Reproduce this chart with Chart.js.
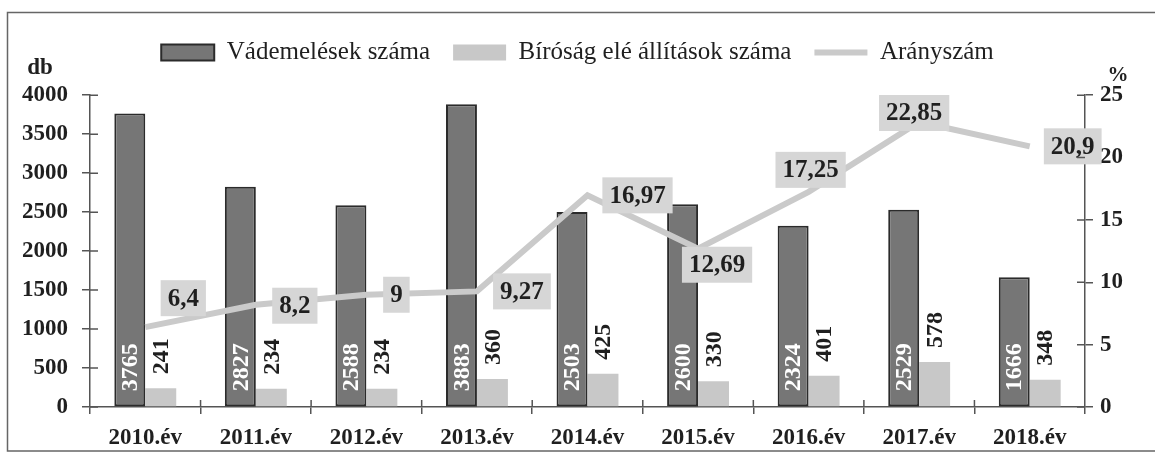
<!DOCTYPE html>
<html>
<head>
<meta charset="utf-8">
<script src="https://cdn.jsdelivr.net/npm/chart.js@4.4.1/dist/chart.umd.min.js"></script>
<style>
  html, body { margin: 0; padding: 0; background: #fff; }
  #wrap { width: 1155px; height: 456px; position: relative; }
</style>
</head>
<body>
<div id="wrap"><canvas id="chart"></canvas></div>
<script>
// data
const years = ['2010.év','2011.év','2012.év','2013.év','2014.év','2015.év','2016.év','2017.év','2018.év']
const indictments = [3765, 2827, 2588, 3883, 2503, 2600, 2324, 2529, 1666]
const trials = [241, 234, 234, 360, 425, 330, 401, 578, 348]
const ratio = [6.4, 8.2, 9, 9.27, 16.97, 12.69, 17.25, 22.85, 20.9]
const dbTicks = [0, 500, 1000, 1500, 2000, 2500, 3000, 3500, 4000]
const pctTicks = [0, 5, 10, 15, 20, 25]

// where each ratio label box sits relative to its point (px)
const ratioLabelShift = [[38,-29],[39,1],[30,0],[45,0],[50,0],[19,16],[2,-22],[-5,-9],[43,0]]

const SERIF = '"Liberation Serif", "Times New Roman", serif'
const INK = '#1f1f1f'
const AXIS = '#555'

const fmt = v => String(v).replace('.', ',')

// frame, value labels, inner tick halves, unit captions
const extras = {
  id: 'extras',
  beforeDraw(chart){
    const ctx = chart.ctx
    ctx.save()
    ctx.strokeStyle = '#666'; ctx.lineWidth = 1.5
    ctx.beginPath()
    ctx.moveTo(1160, 12.5); ctx.lineTo(7.5, 12.5); ctx.lineTo(7.5, 451); ctx.lineTo(1160, 451)
    ctx.stroke()
    ctx.restore()
  },
  afterDatasetsDraw(chart){
    const ctx = chart.ctx
    ctx.save()
    ctx.font = `bold 24px ${SERIF}`
    ctx.textAlign = 'left'; ctx.textBaseline = 'middle'
    // dark bars: white text inside, from the bottom
    chart.getDatasetMeta(0).data.forEach((bar, i) => {
      ctx.save(); ctx.translate(bar.x, bar.base - 15); ctx.rotate(-Math.PI/2)
      ctx.fillStyle = '#fff'; ctx.fillText(String(chart.data.datasets[0].data[i]), 0, 1)
      ctx.restore()
    })
    // light bars: black text above the bar
    chart.getDatasetMeta(1).data.forEach((bar, i) => {
      ctx.save(); ctx.translate(bar.x, bar.y - 14); ctx.rotate(-Math.PI/2)
      ctx.fillStyle = INK; ctx.fillText(String(chart.data.datasets[1].data[i]), 0, 1)
      ctx.restore()
    })
    // ratio labels in grey boxes
    ctx.font = `bold 25px ${SERIF}`
    ctx.textAlign = 'center'
    chart.getDatasetMeta(2).data.forEach((pt, i) => {
      const txt = fmt(chart.data.datasets[2].data[i])
      const [dx, dy] = ratioLabelShift[i]
      const w = ctx.measureText(txt).width + 14, h = 36
      const cx = pt.x + dx, cy = pt.y + dy
      ctx.fillStyle = '#d6d6d6'; ctx.fillRect(cx - w/2, cy - h/2, w, h)
      ctx.fillStyle = INK; ctx.fillText(txt, cx, cy + 1)
    })
    ctx.restore()
  },
  afterDraw(chart){
    const ctx = chart.ctx, a = chart.chartArea
    const y = chart.scales.y, y1 = chart.scales.y1, x = chart.scales.x
    ctx.save()
    ctx.strokeStyle = AXIS; ctx.lineWidth = 1.5
    ctx.beginPath()
    dbTicks.forEach(v => { const p = y.getPixelForValue(v); ctx.moveTo(a.left, p); ctx.lineTo(a.left + 8, p) })
    pctTicks.forEach(v => { const p = y1.getPixelForValue(v); ctx.moveTo(a.right - 8, p); ctx.lineTo(a.right, p) })
    for (let i = 1; i < years.length; i++){
      const p = (x.getPixelForValue(i - 1) + x.getPixelForValue(i)) / 2
      ctx.moveTo(p, a.bottom); ctx.lineTo(p, a.bottom - 7)
    }
    ctx.stroke()
    ctx.fillStyle = INK
    ctx.textAlign = 'center'; ctx.textBaseline = 'middle'
    ctx.font = `bold 23px ${SERIF}`
    ctx.fillText('db', 40, a.top - 27)
    ctx.font = `bold 21px ${SERIF}`
    ctx.fillText('%', a.right + 33, a.top - 20)
    ctx.restore()
  }
}

const tickFont = { family: SERIF, size: 23, weight: 'bold' }

new Chart(document.getElementById('chart'), {
  type: 'bar',
  data: {
    labels: years,
    datasets: [
      {
        label: 'Vádemelések száma', data: indictments, yAxisID: 'y', order: 1,
        backgroundColor: '#767676', borderColor: '#2b2b2b', borderWidth: 2, borderSkipped: false,
        pointStyle: 'rect'
      },
      {
        label: 'Bíróság elé állítások száma', data: trials, yAxisID: 'y', order: 1,
        backgroundColor: '#c8c8c8', borderWidth: 0, pointStyle: 'rect'
      },
      {
        type: 'line', label: 'Arányszám', data: ratio, yAxisID: 'y1', order: 0,
        borderColor: '#cacaca', borderWidth: 6, tension: 0, fill: false,
        pointRadius: 0, pointHoverRadius: 0, pointStyle: 'line',
        pointBorderWidth: 6, pointBorderColor: '#cacaca', pointBackgroundColor: '#cacaca'
      }
    ]
  },
  options: {
    responsive: true, maintainAspectRatio: false, animation: false, devicePixelRatio: 1,
    layout: { padding: { top: 17, left: 0, right: 0, bottom: 0 } },
    datasets: { bar: { categoryPercentage: 0.56, barPercentage: 1.0 } },
    plugins: {
      legend: {
        position: 'top', weight: 3000,
        labels: {
          usePointStyle: true, pointStyleWidth: 53, boxHeight: 16, padding: 23,
          color: INK, font: { family: SERIF, size: 25 },
          sort: (a, b) => a.datasetIndex - b.datasetIndex
        }
      },
      subtitle: { display: true, text: ' ', font: { size: 1 }, padding: { top: 0, bottom: 19 } },
      tooltip: { enabled: false }
    },
    scales: {
      x: {
        grid: { display: true, drawOnChartArea: false, offset: true, tickLength: 7, color: AXIS, lineWidth: 1.5 },
        border: { display: true, color: AXIS, width: 1.5 },
        ticks: { color: INK, font: tickFont, padding: 10, maxRotation: 0, autoSkip: false },
        afterFit: s => { s.height = 49 }
      },
      y: {
        position: 'left', min: 0, max: 4000,
        afterBuildTicks: s => { s.ticks = dbTicks.map(v => ({ value: v })) },
        grid: { drawOnChartArea: false, tickLength: 8, color: AXIS, lineWidth: 1.5 },
        border: { display: true, color: AXIS, width: 1.5 },
        ticks: { color: INK, font: tickFont, padding: 14, callback: v => String(v) },
        afterFit: s => { s.width = 90 }
      },
      y1: {
        position: 'right', min: 0, max: 25,
        afterBuildTicks: s => { s.ticks = pctTicks.map(v => ({ value: v })) },
        grid: { drawOnChartArea: false, tickLength: 8, color: AXIS, lineWidth: 1.5 },
        border: { display: true, color: AXIS, width: 1.5 },
        ticks: { color: INK, font: tickFont, padding: 7, callback: v => String(v) },
        afterFit: s => { s.width = 70 }
      }
    }
  },
  plugins: [extras]
})
</script>
</body>
</html>
